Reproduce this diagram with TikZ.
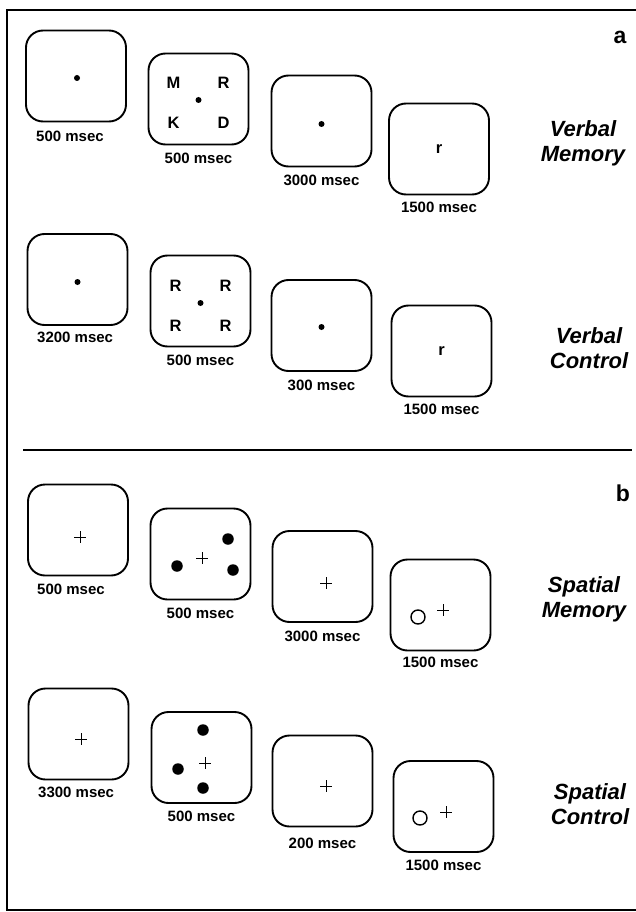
\documentclass[tikz,border=0pt]{standalone}
\usepackage{fontspec}
\setmainfont{Liberation Sans}
\usetikzlibrary{positioning}

\begin{document}
\begin{tikzpicture}[x=1pt, y=-1pt,
    screen/.style={draw, line width=1.9pt, rounded corners=17pt, minimum width=100pt, minimum height=91pt, inner sep=0pt},
    lbl/.style={font=\fontsize{15}{18}\selectfont\bfseries, inner sep=0pt},
    cond/.style={font=\fontsize{22}{25}\selectfont\bfseries\itshape, align=center, inner sep=0pt},
    panel/.style={font=\fontsize{23}{25}\selectfont\bfseries, inner sep=0pt},
    letter/.style={font=\fontsize{16.5}{18}\selectfont\bfseries, inner sep=0pt},
    fixdot/.style={circle, fill, inner sep=0pt, minimum size=6pt},
    stim/.style={circle, fill, inner sep=0pt, minimum size=11.5pt},
    probe/.style={circle, draw, line width=1.4pt, inner sep=0pt, minimum size=14pt},
    fixcross/.pic={\draw[line width=1pt] (-6,0) -- (6,0) (0,-6) -- (0,6);}]
    \useasboundingbox (0,0) rectangle (636,912);

    \draw[line width=2pt] (636,10) -- (7,10) -- (7,910) -- (636,910);
    \draw[line width=2.6pt] (23,450) -- (632,450);

    \node[panel] (pa) at (620,37) {a};
    \node[panel] (pb) at (623,493) {b};

    % verbal memory
    \node[screen] (b11) at (76,76) {};
    \node[screen] (b12) at (198.5,99) {};
    \node[screen] (b13) at (321.5,121) {};
    \node[screen] (b14) at (439,149) {};
    \node[fixdot] (d11) at ([shift={(1,2)}] b11.center) {};
    \node[letter] (m12) at ([shift={(-25,-16)}] b12.center) {M};
    \node[letter] (r12) at ([shift={(25,-16)}] b12.center) {R};
    \node[letter] (k12) at ([shift={(-25,24)}] b12.center) {K};
    \node[letter] (dd12) at ([shift={(25,24)}] b12.center) {D};
    \node[fixdot] (d12) at ([shift={(0,1)}] b12.center) {};
    \node[fixdot] (d13) at ([shift={(0,3)}] b13.center) {};
    \node[letter] (p14) at (b14.center) {r};
    \node[lbl, anchor=north west] (t11) at ([shift={(-40,8)}] b11.south) {500 msec};
    \node[lbl, below=7.5pt of b12] (t12) {500 msec};
    \node[lbl, below=7.5pt of b13] (t13) {3000 msec};
    \node[lbl, below=6.5pt of b14] (t14) {1500 msec};
    \node[cond] (c1) at (583,143) {Verbal\\Memory};

    % verbal control
    \node[screen] (b21) at (77.5,279.5) {};
    \node[screen] (b22) at (200.5,301) {};
    \node[screen] (b23) at (321.5,325.5) {};
    \node[screen] (b24) at (441.5,351) {};
    \node[fixdot] (d21) at ([shift={(0,2.5)}] b21.center) {};
    \node[letter] (ra22) at ([shift={(-25,-15)}] b22.center) {R};
    \node[letter] (rb22) at ([shift={(25,-15)}] b22.center) {R};
    \node[letter] (rc22) at ([shift={(-25,25)}] b22.center) {R};
    \node[letter] (rd22) at ([shift={(25,25)}] b22.center) {R};
    \node[fixdot] (d22) at ([shift={(0,2)}] b22.center) {};
    \node[fixdot] (d23) at ([shift={(0,1.5)}] b23.center) {};
    \node[letter] (p24) at (b24.center) {r};
    \node[lbl, anchor=north west] (t21) at ([shift={(-40.5,6)}] b21.south) {3200 msec};
    \node[lbl, below=7pt of b22] (t22) {500 msec};
    \node[lbl, below=8pt of b23] (t23) {300 msec};
    \node[lbl, below=6.5pt of b24] (t24) {1500 msec};
    \node[cond] (c2) at (589,348) {Verbal\\Control};

    % spatial memory
    \node[screen] (b31) at (78,530) {};
    \node[screen] (b32) at (200.5,554) {};
    \node[screen] (b33) at (322.5,576.5) {};
    \node[screen] (b34) at (440.5,605) {};
    \pic at ([shift={(2,7)}] b31.center) {fixcross};
    \node[stim] (s32a) at ([shift={(-23.5,12)}] b32.center) {};
    \node[stim] (s32b) at ([shift={(27.5,-15)}] b32.center) {};
    \node[stim] (s32c) at ([shift={(32.5,16)}] b32.center) {};
    \pic at ([shift={(1.5,4)}] b32.center) {fixcross};
    \pic at ([shift={(3.5,6.5)}] b33.center) {fixcross};
    \node[probe] (o34) at ([shift={(-22.5,12)}] b34.center) {};
    \pic at ([shift={(2.5,5)}] b34.center) {fixcross};
    \node[lbl, anchor=north west] (t31) at ([shift={(-41,7)}] b31.south) {500 msec};
    \node[lbl, below=7pt of b32] (t32) {500 msec};
    \node[lbl, below=8pt of b33] (t33) {3000 msec};
    \node[lbl, below=5.5pt of b34] (t34) {1500 msec};
    \node[cond] (c3) at (584,599) {Spatial\\Memory};

    % spatial control
    \node[screen] (b41) at (78.5,734) {};
    \node[screen] (b42) at (201.5,757.5) {};
    \node[screen] (b43) at (322.5,781) {};
    \node[screen] (b44) at (443.5,806.5) {};
    \pic at ([shift={(2.5,5)}] b41.center) {fixcross};
    \node[stim] (s42a) at ([shift={(1.5,-27.5)}] b42.center) {};
    \node[stim] (s42b) at ([shift={(-23.5,11.5)}] b42.center) {};
    \node[stim] (s42c) at ([shift={(1.5,30.5)}] b42.center) {};
    \pic at ([shift={(3.5,5.5)}] b42.center) {fixcross};
    \pic at ([shift={(3.5,5)}] b43.center) {fixcross};
    \node[probe] (o44) at ([shift={(-23.5,11.5)}] b44.center) {};
    \pic at ([shift={(2.5,5.5)}] b44.center) {fixcross};
    \node[lbl, anchor=north west] (t41) at ([shift={(-40.5,6)}] b41.south) {3300 msec};
    \node[lbl, below=6.5pt of b42] (t42) {500 msec};
    \node[lbl, below=10pt of b43] (t43) {200 msec};
    \node[lbl, below=6.5pt of b44] (t44) {1500 msec};
    \node[cond] (c4) at (590,804) {Spatial\\Control};
\end{tikzpicture}
\end{document}
